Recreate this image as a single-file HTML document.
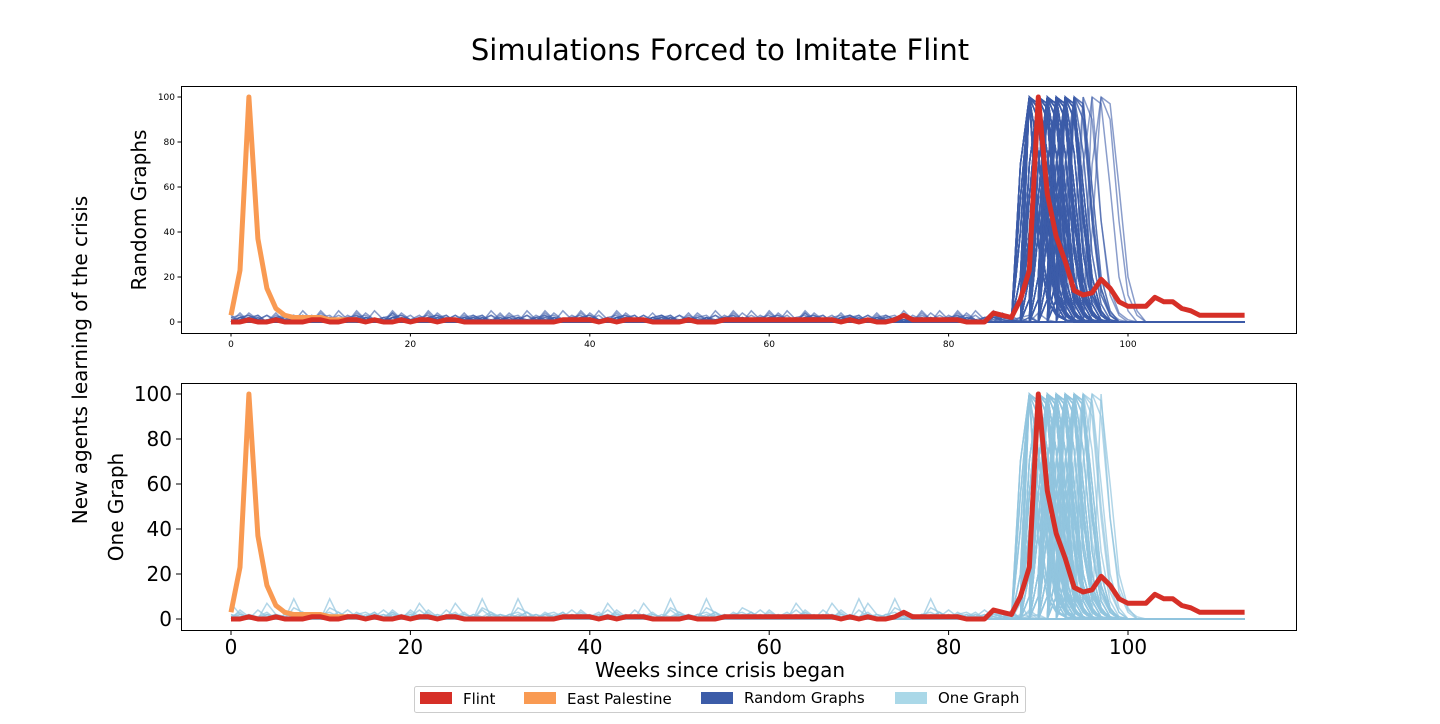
<!DOCTYPE html>
<html><head><meta charset="utf-8"><style>
body{margin:0;background:#fff;font-family:"DejaVu Sans","Liberation Sans",sans-serif}
svg text{font-family:"DejaVu Sans","Liberation Sans",sans-serif}
</style></head><body>
<svg id="c" width="1440" height="720" xmlns="http://www.w3.org/2000/svg">
<text x="720" y="60" text-anchor="middle" font-size="29">Simulations Forced to Imitate Flint</text>
<text transform="translate(87,360) rotate(-90)" text-anchor="middle" font-size="20">New agents learning of the crisis</text>
<text transform="translate(146,210) rotate(-90)" text-anchor="middle" font-size="20">Random Graphs</text>
<text transform="translate(123,507) rotate(-90)" text-anchor="middle" font-size="20">One Graph</text>
<text x="720" y="677" text-anchor="middle" font-size="20">Weeks since crisis began</text>
<g id="top"></g>
<g id="bot"></g>
<g>
<rect x="414.5" y="686.5" width="611" height="26" fill="#fff" stroke="#ccc" rx="2"/>
<g><rect x="420" y="692" width="32" height="12" fill="#d62f27"/><text x="463" y="704" font-size="15">Flint</text></g>
<g><rect x="524" y="692" width="32" height="12" fill="#f99a52"/><text x="567" y="704" font-size="15">East Palestine</text></g>
<g><rect x="701" y="692" width="32" height="12" fill="#3c5ca8"/><text x="744" y="703" font-size="15">Random Graphs</text></g>
<g><rect x="895" y="692" width="32" height="12" fill="#aad8e8"/><text x="938" y="703" font-size="15">One Graph</text></g>
</g>
</svg>
<script>
const flint=[0,0,1,0,0,1,0,0,0,1,1,0,0,1,1,0,1,0,0,1,0,1,1,0,1,1,0,0,0,0,0,0,0,0,0,0,0,1,1,1,1,0,1,0,1,1,1,0,0,0,0,1,0,0,0,1,1,1,1,1,1,1,1,1,1,1,1,1,0,1,0,1,0,0,1,3,1,1,1,1,1,1,0,0,0,4,3,2,10,23,100,57,38,27,14,12,13,19,15,9,7,7,7,11,9,9,6,5,3,3,3,3,3,3];
const eastPalestine=[3,23,100,37,15,6,3,2,2,2,2,1,1,1,1];
const randomPeaks=[89,89,89,89,89,89,89,90,90,90,90,90,90,90,90,90,91,91,91,91,91,91,91,91,92,92,92,92,92,92,92,93,93,93,93,93,94,94];
const randomTail=[95,95,96,96,97,97];
const onePeaks=[89,89,89,90,90,90,90,90,91,91,91,91,91,91,92,92,92,92,92,93,93,93,93,94,94,94,95];
const oneTail=[95,96,96,97];
const shapeA=[0,0,100,45,15,4,1,0];
const shapeB=[0,40,100,90,45,12,3,0];
const shapeC=[0,70,100,97,60,20,5,0];
const shapeD=[0,20,100,35,10,3,1,0];
const shapeE=[0,55,100,75,30,8,1,0];
const shapeF=[0,10,100,95,50,15,3,0];
const shapes=[shapeA,shapeB,shapeC,shapeD,shapeE,shapeF];
const noiseA=[0,1,0,2,0,1,0,2,1,0,5,1,0,1,0,2,1,0,4,0,1,3,0,1,2,0,3,1,0,5,1,2,0,1,0,2,3,1,0,2,1,0,1,2,0,1,3,1,0,2,1,0,4,1,0,2,3,0,1,0,2,3,1,0,1,2,0,1,0,3,1,0,2,1,0,1,2,0,4,1,0,2,1,3,0,1,2,3];
const noiseB=[0,2,1,0,1,2,0,1,3,0,2,0,1,4,1,0,2,1,3,0,4,1,0,2,1,3,0,2,1,0,2,1,0,1,2,0,1,0,2,1,0,1,2,0,1,0,2,1,0,5,3,1,0,2,1,0,3,1,2,0,4,1,0,7,2,1,0,2,1,0,9,1,0,2,3,1,0,2,1,3,0,1,2,0,1,2,1,0];
const xTicks=[0,20,40,60,80,100];
const yTicks=[0,20,40,60,80,100];
const NS="http://www.w3.org/2000/svg";
function mk(p,t,a){const e=document.createElementNS(NS,t);for(const k in a)e.setAttribute(k,a[k]);p.appendChild(e);return e;}
function peakSeries(pk,noise,j,k){const sh=shapes[k];const s=[];for(let w=0;w<=113;w++){const n=noise[(w+j*7)%noise.length];let v=w<pk-2?((k==0&&j%3==0)?n:0):0;const d=w-(pk-2);if(d>=0&&d<sh.length)v=sh[d];s.push(v);}return s;}
function panel(g,top,bottom,big,peaks,tail,noise,col,op){
 const L=181,R=1296,x=w=>231+w*8.97,y0=bottom-11,y=v=>y0-v*(y0-(top+11))/100;
 const pts=s=>s.map((v,i)=>x(i).toFixed(1)+','+y(v).toFixed(1)).join(' ');
 const sims=mk(g,'g',{});
 
 
 shapes.forEach((sh,k)=>peaks.forEach((pk,j)=>{const l=mk(sims,'polyline',{points:pts(peakSeries(pk,noise,j,k)),fill:'none',stroke:col,'stroke-width':1.5,'stroke-opacity':op});
 
 }));
 tail.forEach((pk,j)=>{const l=mk(sims,'polyline',{points:pts(peakSeries(pk,noise,j+1,j%3)),fill:'none',stroke:col,'stroke-width':1.5,'stroke-opacity':op});
 
 });
 const ep=mk(g,'polyline',{points:pts(eastPalestine),fill:'none',stroke:'#f99a52','stroke-width':5,'stroke-linejoin':'round'});
 
 
 const fl=mk(g,'polyline',{points:pts(flint),fill:'none',stroke:'#d62f27','stroke-width':5,'stroke-linejoin':'round'});
 
 
 const fr=mk(g,'rect',{x:L+.5,y:top+.5,width:R-L,height:bottom-top,fill:'none',stroke:'#000','stroke-width':1});
 
 
 const fs=big?20:9,tl=big?5:3.5;
 xTicks.forEach(t=>{mk(g,'line',{x1:x(t),x2:x(t),y1:bottom+.5,y2:bottom+tl,stroke:'#000'});
  const tx=mk(g,'text',{x:x(t),y:bottom+(big?24:14),'text-anchor':'middle','font-size':fs});tx.textContent=t;
  
  });
 yTicks.forEach(t=>{mk(g,'line',{x1:L+.5,x2:L-tl,y1:y(t),y2:y(t),stroke:'#000'});
  const tx=mk(g,'text',{x:L-(big?9:6),y:y(t)+(big?7:3),'text-anchor':'end','font-size':fs});tx.textContent=t;
  
  });
}
panel(document.getElementById('top'),86,333,false,randomPeaks,randomTail,noiseA,'#3c5ca8',0.6);
panel(document.getElementById('bot'),383,630,true,onePeaks,oneTail,noiseB,'#92c5de',0.7);
</script>
</body></html>
